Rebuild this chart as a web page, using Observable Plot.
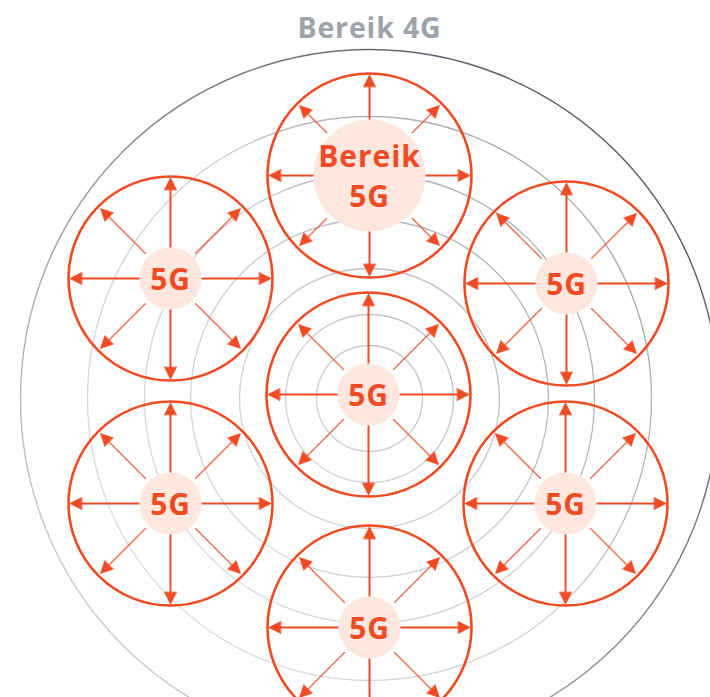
<!DOCTYPE html>
<html>
<head>
<meta charset="utf-8">
<script src="https://cdn.jsdelivr.net/npm/d3@7"></script>
<script src="https://cdn.jsdelivr.net/npm/@observablehq/plot@0.6"></script>
<style>
  html, body { margin: 0; padding: 0; background: #ffffff; overflow: hidden; }
  #chart svg text { letter-spacing: 0.03em; }
</style>
</head>
<body>
<div id="chart"></div>
<script>
// ---- data ----
const title = "Bereik 4G";
// 4G coverage rings (concentric around the central site)
const ringCenterX = 369;
const ringCenterY = 398;
const ringRadii = [53, 84, 130, 179, 225, 282, 349];
// 5G cells
const cellNames  = ["top", "topLeft", "topRight", "center", "bottomLeft", "bottomRight", "bottom"];
const cellX      = [369, 170, 566, 368, 170, 565, 369];
const cellY      = [175, 278, 283, 394, 503, 503, 627];
const cellLabels = ["Bereik\n5G", "5G", "5G", "5G", "5G", "5G", "5G"];
const cellRadius = [102, 102, 102, 102, 102, 102, 102];
const coreRadius = [56, 31, 31, 31, 31, 31, 31];
// arrow directions, degrees clockwise from north
const arrowAngles = [0, 45, 90, 135, 180, 225, 270, 315];

// ---- derived tables ----
const RED = "#ef4b24";
const PINK = "#fde7de";
const W = 710, H = 697;

const rings = ringRadii.map((r, i) => ({x: ringCenterX, y: ringCenterY, r, outer: i === ringRadii.length - 1}));
const cells = cellNames.map((name, i) => ({
  name, x: cellX[i], y: cellY[i], label: cellLabels[i], R: cellRadius[i], core: coreRadius[i]
}));
const headLen = 12;
const arrows = [];
for (const c of cells) {
  for (const a of arrowAngles) {
    const diag = a % 90 !== 0;
    const ux = Math.sin(a * Math.PI / 180), uy = -Math.cos(a * Math.PI / 180);
    const start = c.core + (diag ? 4 : 0);
    const tip = c.R - (diag ? 3 : 1.2);
    arrows.push({
      diag, angle: a,
      x1: c.x + ux * start, y1: c.y + uy * start,
      x2: c.x + ux * (tip - headLen + 2), y2: c.y + uy * (tip - headLen + 2),
      tx: c.x + ux * tip, ty: c.y + uy * tip
    });
  }
}
const straight = arrows.filter(d => !d.diag);
const diagonal = arrows.filter(d => d.diag);
const head = {
  draw(context, l, r) {
    context.moveTo(-r, 0);
    context.lineTo(0, -l);
    context.lineTo(r, 0);
    context.closePath();
  }
};

// gradient definitions for the grey 4G rings (light bottom-left, dark top-right)
function ringDefs() {
  const defs = d3.create("svg:defs");
  const g1 = defs.append("linearGradient").attr("id", "ringGrad")
    .attr("gradientUnits", "userSpaceOnUse")
    .attr("x1", 40).attr("y1", 680).attr("x2", 700).attr("y2", 120);
  g1.append("stop").attr("offset", 0).attr("stop-color", "#e2e3e5");
  g1.append("stop").attr("offset", 0.5).attr("stop-color", "#c9ccd1");
  g1.append("stop").attr("offset", 1).attr("stop-color", "#8c939c");
  const g2 = defs.append("linearGradient").attr("id", "outerGrad")
    .attr("gradientUnits", "userSpaceOnUse")
    .attr("x1", 20).attr("y1", 700).attr("x2", 720).attr("y2", 60);
  g2.append("stop").attr("offset", 0).attr("stop-color", "#dcdde0");
  g2.append("stop").attr("offset", 0.45).attr("stop-color", "#8d939b");
  g2.append("stop").attr("offset", 1).attr("stop-color", "#3f4754");
  return defs.node();
}

const font = "'Open Sans', Lato, sans-serif";

const chart = Plot.plot({
  width: W,
  height: H,
  margin: 0,
  x: {domain: [0, W], range: [0, W], axis: null},
  y: {domain: [0, H], range: [0, H], axis: null},
  r: {type: "identity"},
  style: {background: "#ffffff", fontFamily: font},
  marks: [
    ringDefs,
    // 4G rings
    Plot.dot(rings.filter(d => !d.outer), {x: "x", y: "y", r: "r", stroke: "url(#ringGrad)", strokeWidth: 1.3, fill: "none"}),
    Plot.dot(rings.filter(d => d.outer), {x: "x", y: "y", r: "r", stroke: "url(#outerGrad)", strokeWidth: 1.4, fill: "none"}),
    // 5G cell boundaries
    Plot.dot(cells, {x: "x", y: "y", r: "R", stroke: RED, strokeWidth: 2.6, fill: "none"}),
    // cores
    Plot.dot(cells, {x: "x", y: "y", r: "core", fill: PINK, stroke: "none"}),
    // arrow shafts
    Plot.link(straight, {x1: "x1", y1: "y1", x2: "x2", y2: "y2", stroke: RED, strokeWidth: 2}),
    Plot.link(diagonal, {x1: "x1", y1: "y1", x2: "x2", y2: "y2", stroke: RED, strokeWidth: 1.3, strokeOpacity: 0.85}),
    // arrow heads
    Plot.vector(arrows, {x: "tx", y: "ty", rotate: "angle", length: headLen, r: 6, anchor: "end", shape: head, fill: RED, stroke: RED, strokeWidth: 0.6}),
    // labels
    Plot.text(cells, {x: "x", y: d => d.y - 1.5, text: "label", fill: RED, fontSize: 30, fontWeight: 700, lineHeight: 1.33, fontFamily: font}),
    // title
    Plot.text([title], {x: [ringCenterX], y: [28], text: d => d, fill: "#9ea3ab", fontSize: 28.5, fontWeight: 700, fontFamily: font})
  ]
});
document.getElementById("chart").appendChild(chart);
</script>
</body>
</html>
